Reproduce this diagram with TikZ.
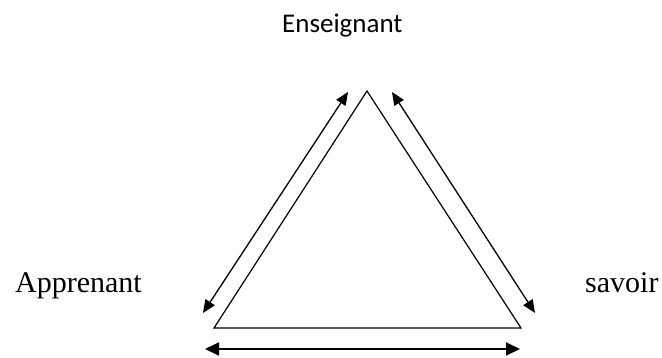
\documentclass[tikz,border=0pt]{standalone}
\usepackage{fontspec}
\setmainfont{Liberation Serif}
\newfontfamily\calfont{Carlito}
\usetikzlibrary{arrows.meta}
\tikzset{
  side/.style={line width=1.2pt, line join=miter},
  dblarrow/.style={line width=1.3pt, {Triangle[length=13pt,width=11pt]}-{Triangle[length=13pt,width=11pt]}},
  basearrow/.style={line width=1.8pt, {Triangle[length=14pt,width=13pt]}-{Triangle[length=14pt,width=13pt]}},
  serlabel/.style={inner sep=0pt, font=\fontsize{30}{36}\selectfont},
  callabel/.style={inner sep=0pt, font=\calfont\fontsize{27}{32}\selectfont}
}
\begin{document}
\begin{tikzpicture}[x=1pt,y=-1pt]
\useasboundingbox (0,0) rectangle (662,358);
% triangle vertices
\coordinate (A) at (367,91);
\coordinate (L) at (214,328);
\coordinate (R) at (521,328);
\draw[side] (A) -- (L) -- (R) -- cycle;
% arrow ends
\coordinate (la1) at (348,92);
\coordinate (la2) at (203,313);
\coordinate (ra1) at (392,92);
\coordinate (ra2) at (535,313);
\coordinate (ba1) at (205,349);
\coordinate (ba2) at (520,349);
\draw[dblarrow] (la2) -- (la1);
\draw[dblarrow] (ra1) -- (ra2);
\draw[basearrow] (ba1) -- (ba2);
% labels
\node[callabel, anchor=base west] (ens) at (282,33) {Enseignant};
\node[serlabel, anchor=base west] (app) at (15,293) {Apprenant};
\node[serlabel, anchor=base west] (sav) at (585,293) {savoir};
\end{tikzpicture}
\end{document}
